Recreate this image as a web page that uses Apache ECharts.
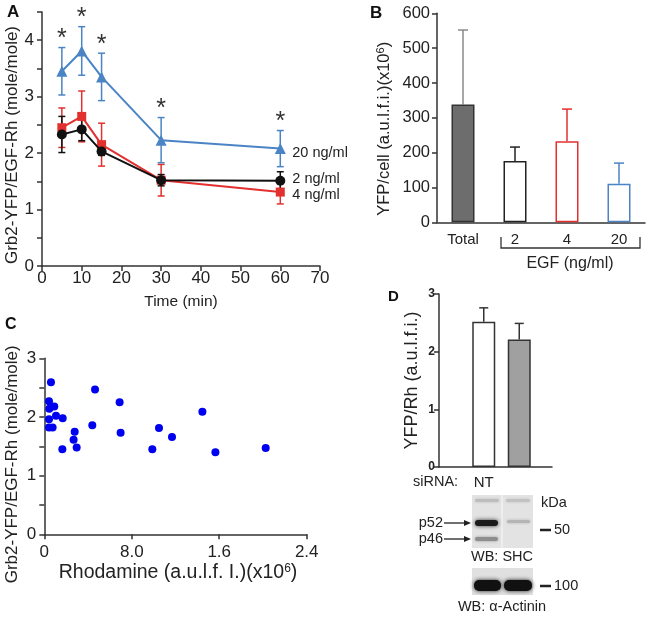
<!DOCTYPE html>
<html><head><meta charset="utf-8">
<script src="https://cdn.jsdelivr.net/npm/echarts@6/dist/echarts.min.js"></script>
<style>html,body{margin:0;padding:0;background:#fff}#c{width:653px;height:618px}</style>
</head><body><div id="c"></div>
<script>
// ---------- Panel A data ----------
const timeMin = [5, 10, 15, 30, 60];
const egf20Mean = [3.45, 3.81, 3.35, 2.23, 2.08];
const egf20Err  = [0.42, 0.43, 0.42, 0.40, 0.32];
const egf4Mean  = [2.45, 2.65, 2.15, 1.52, 1.31];
const egf4Err   = [0.35, 0.45, 0.38, 0.28, 0.21];
const egf2Mean  = [2.33, 2.42, 2.03, 1.52, 1.51];
const egf2Err   = [0.32, 0.20, 0.07, 0.10, 0.16];
const egf20Signif = [true, true, true, true, true];
const seriesNamesA = ['20 ng/ml', '4 ng/ml', '2 ng/ml'];

// ---------- Panel B data ----------
const bCategories = ['Total', '2', '4', '20'];
const bMean  = [338, 176, 233, 111];
const bErrUp = [214, 40, 92, 59];

// ---------- Panel C data ----------
const cRhodamine = [0.061,0.043,0.046,0.091,0.043,0.107,0.168,0.043,0.076,0.165,0.278,0.268,0.296,0.439,0.464,0.689,0.698,0.988,1.049,1.168,1.446,1.565,2.025];
const cRatio     = [2.59,2.27,2.14,2.18,1.96,2.02,1.98,1.82,1.82,1.45,1.75,1.61,1.48,1.86,2.47,2.25,1.73,1.45,1.81,1.66,2.09,1.40,1.47];
const cTickLabels = ['0', '8.0', '1.6', '2.4'];

// ---------- Panel D data ----------
const dCategories = ['NT', 'SHC'];
const dMean = [2.52, 2.21];
const dErrUp = [0.24, 0.28];

const FONT = 'Liberation Sans, Arial, Helvetica, sans-serif';
const BLUE = '#4a84c4', RED = '#e2302f', BLACK = '#111111';
const AX = '#333333', TXT = '#222222';

const chart = echarts.init(document.getElementById('c'), null, {renderer: 'canvas'});

function errBarsSym(color) {
  return function (params, api) {
    const x = api.value(0), m = api.value(1), e = api.value(2);
    const lo = api.coord([x, m - e]), hi = api.coord([x, m + e]);
    const w = 3.5;
    const st = {stroke: color, lineWidth: 1.5};
    return {type: 'group', children: [
      {type: 'line', shape: {x1: lo[0], y1: lo[1], x2: hi[0], y2: hi[1]}, style: st},
      {type: 'line', shape: {x1: hi[0]-w, y1: hi[1], x2: hi[0]+w, y2: hi[1]}, style: st},
      {type: 'line', shape: {x1: lo[0]-w, y1: lo[1], x2: lo[0]+w, y2: lo[1]}, style: st}
    ]};
  };
}
function errBarsUp(colors, lw, w) {
  return function (params, api) {
    const x = api.value(0), m = api.value(1), e = api.value(2);
    const lo = api.coord([x, m]), hi = api.coord([x, m + e]);
    const st = {stroke: colors[params.dataIndex], lineWidth: lw};
    return {type: 'group', children: [
      {type: 'line', shape: {x1: lo[0], y1: lo[1], x2: hi[0], y2: hi[1]}, style: st},
      {type: 'line', shape: {x1: hi[0]-w, y1: hi[1], x2: hi[0]+w, y2: hi[1]}, style: st}
    ]};
  };
}

const axisLineStyle = {show: true, lineStyle: {color: AX, width: 1.5}};
const tickStyle = {show: true, length: 5, lineStyle: {color: AX, width: 1.5}};

const bFill   = ['#6d6d6d', '#ffffff', '#ffffff', '#ffffff'];
const bBorder = ['#333333', '#222222', RED, BLUE];
const bErrCol = ['#8a8a8a', '#222222', RED, BLUE];
const dFill   = ['#ffffff', '#a0a0a0'];

const option = {
  animation: false,
  textStyle: {fontFamily: FONT, color: TXT},
  grid: [
    {left: 42, top: 12, width: 278, height: 254},           // A
    {left: 437, top: 13.3, width: 208, height: 209},        // B
    {left: 44.3, top: 358.3, width: 262.4, height: 176},    // C
    {left: 439, top: 294, width: 113, height: 173},         // D frame
    {left: 466, top: 294, width: 71, height: 173}           // D bars
  ],
  xAxis: [
    {gridIndex: 0, type: 'value', min: 0, max: 70, interval: 10,
     axisLine: axisLineStyle, axisTick: tickStyle, splitLine: {show: false},
     axisLabel: {fontSize: 17, color: TXT, margin: 4},
     name: 'Time (min)', nameLocation: 'middle', nameGap: 28,
     nameTextStyle: {fontSize: 15.5, color: TXT}},
    {gridIndex: 1, type: 'category', data: bCategories,
     axisLine: axisLineStyle, axisTick: {show: false},
     axisLabel: {fontSize: 15, color: TXT, margin: 10}},
    {gridIndex: 2, type: 'value', min: 0, max: 2.4, interval: 0.8,
     axisLine: axisLineStyle, axisTick: tickStyle, splitLine: {show: false},
     axisLabel: {fontSize: 17, color: TXT, margin: 10,
       formatter: v => cTickLabels[Math.round(v / 0.8)]},
     name: '{m|Rhodamine (a.u.l.f. I.)(x10}{s|6}{m|)}', nameLocation: 'middle', nameGap: 20,
     nameTextStyle: {padding: [0, 0, 0, 5], rich: {m: {fontSize: 19.5, color: TXT, fontFamily: FONT}, s: {fontSize: 12, color: TXT, fontFamily: FONT, verticalAlign: 'top', padding: [0,0,9,0]}}}},
    {gridIndex: 3, type: 'value', min: 0, max: 1, show: true,
     axisLine: axisLineStyle, axisTick: {show: false}, axisLabel: {show: false}, splitLine: {show: false}},
    {gridIndex: 4, type: 'category', data: dCategories,
     axisLine: {show: false}, axisTick: {show: false},
     axisLabel: {fontSize: 15, color: TXT, margin: 8}}
  ],
  yAxis: [
    {gridIndex: 0, type: 'value', min: 0, max: 4.5, interval: 0.5,
     axisLine: axisLineStyle, axisTick: tickStyle, splitLine: {show: false},
     axisLabel: {fontSize: 17, color: TXT, margin: 8, formatter: v => Number.isInteger(v) ? String(v) : ''},
     name: 'Grb2-YFP/EGF-Rh (mole/mole)', nameLocation: 'middle', nameGap: 20.5,
     nameTextStyle: {fontSize: 17, color: TXT, padding: [0, 12, 0, 0]}},
    {gridIndex: 1, type: 'value', min: 0, max: 600, interval: 100,
     axisLine: axisLineStyle, axisTick: tickStyle, splitLine: {show: false},
     axisLabel: {fontSize: 16.5, color: TXT, margin: 7},
     name: '{m|YFP/cell (a.u.l.f.i.)(x10}{s|6}{m|)}', nameLocation: 'middle', nameGap: 43,
     nameTextStyle: {padding: [0, 22, 0, 0], rich: {m: {fontSize: 16.5, color: TXT, fontFamily: FONT}, s: {fontSize: 11, color: TXT, fontFamily: FONT, verticalAlign: 'top', padding: [0,0,8,0]}}}},
    {gridIndex: 2, type: 'value', min: 0, max: 3, interval: 0.5,
     axisLine: axisLineStyle, axisTick: tickStyle, splitLine: {show: false},
     axisLabel: {fontSize: 17, color: TXT, margin: 8, formatter: v => Number.isInteger(v) ? String(v) : ''},
     name: 'Grb2-YFP/EGF-Rh (mole/mole)', nameLocation: 'middle', nameGap: 23,
     nameTextStyle: {fontSize: 17, color: TXT, padding: [0, 36, 0, 0]}},
    {gridIndex: 3, type: 'value', min: 0, max: 3, interval: 1,
     axisLine: axisLineStyle, axisTick: tickStyle, splitLine: {show: false},
     axisLabel: {fontSize: 12, fontWeight: 'bold', color: TXT, margin: 4},
     name: 'YFP/Rh (a.u.l.f.i.)', nameLocation: 'middle', nameGap: 18,
     nameTextStyle: {fontSize: 18, color: TXT}},
    {gridIndex: 4, type: 'value', min: 0, max: 3, show: false}
  ],
  series: [
    // Panel A error bars
    {type: 'custom', xAxisIndex: 0, yAxisIndex: 0, renderItem: errBarsSym(RED), z: 2,
     data: timeMin.map((t, i) => [t, egf4Mean[i], egf4Err[i]])},
    {type: 'custom', xAxisIndex: 0, yAxisIndex: 0, renderItem: errBarsSym(BLACK), z: 3,
     data: timeMin.map((t, i) => [t, egf2Mean[i], egf2Err[i]])},
    {type: 'custom', xAxisIndex: 0, yAxisIndex: 0, renderItem: errBarsSym(BLUE), z: 4,
     data: timeMin.map((t, i) => [t, egf20Mean[i], egf20Err[i]])},
    // Panel A lines
    {type: 'line', name: seriesNamesA[1], xAxisIndex: 0, yAxisIndex: 0, z: 5,
     data: timeMin.map((t, i) => [t, egf4Mean[i]]),
     symbol: 'rect', symbolSize: 9, showAllSymbol: true,
     lineStyle: {color: RED, width: 2}, itemStyle: {color: RED},
     endLabel: {show: true, formatter: seriesNamesA[1], distance: 12, offset: [0, 3], fontSize: 14.5, color: TXT, fontFamily: FONT}},
    {type: 'line', name: seriesNamesA[2], xAxisIndex: 0, yAxisIndex: 0, z: 6,
     data: timeMin.map((t, i) => [t, egf2Mean[i]]),
     symbol: 'circle', symbolSize: 10,
     lineStyle: {color: BLACK, width: 2}, itemStyle: {color: BLACK},
     endLabel: {show: true, formatter: seriesNamesA[2], distance: 12, offset: [0, -2], fontSize: 14.5, color: TXT, fontFamily: FONT}},
    {type: 'line', name: seriesNamesA[0], xAxisIndex: 0, yAxisIndex: 0, z: 7,
     data: timeMin.map((t, i) => [t, egf20Mean[i]]),
     symbol: 'triangle', symbolSize: 11,
     lineStyle: {color: BLUE, width: 2}, itemStyle: {color: BLUE},
     endLabel: {show: true, formatter: seriesNamesA[0], distance: 12, offset: [0, 4], fontSize: 14.5, color: TXT, fontFamily: FONT}},
    // Panel A asterisks
    {type: 'custom', xAxisIndex: 0, yAxisIndex: 0, z: 8,
     data: timeMin.map((t, i) => [t, egf20Mean[i] + egf20Err[i], egf20Signif[i] ? 1 : 0]),
     renderItem: function (params, api) {
       if (!api.value(2)) return null;
       const p = api.coord([api.value(0), api.value(1)]);
       return {type: 'text', x: p[0], y: p[1] + 4,
         style: {text: '*', fontSize: 25, fontFamily: FONT, fill: '#333', textAlign: 'center', textVerticalAlign: 'bottom'}};
     }},
    // Panel B bars
    {type: 'bar', xAxisIndex: 1, yAxisIndex: 1, barWidth: 23,
     data: bMean.map((v, i) => ({value: v, itemStyle: {color: bFill[i], borderColor: bBorder[i], borderWidth: 1.5}}))},
    {type: 'custom', xAxisIndex: 1, yAxisIndex: 1, renderItem: errBarsUp(bErrCol, 1.5, 5), z: 1,
     data: bMean.map((v, i) => [i, v, bErrUp[i]])},
    // Panel C scatter
    {type: 'scatter', xAxisIndex: 2, yAxisIndex: 2, symbolSize: 8,
     itemStyle: {color: '#0000f0', opacity: 1},
     data: cRhodamine.map((x, i) => [x, cRatio[i]])},
    // Panel D bars
    {type: 'bar', xAxisIndex: 4, yAxisIndex: 4, barWidth: 23,
     data: dMean.map((v, i) => ({value: v, itemStyle: {color: dFill[i], borderColor: '#333', borderWidth: 1.5}}))},
    {type: 'custom', xAxisIndex: 4, yAxisIndex: 4, renderItem: errBarsUp(['#333', '#333'], 1.5, 4.5), z: 1,
     data: dMean.map((v, i) => [i, v, dErrUp[i]])}
  ],
  graphic: [
    // panel letters
    {type: 'text', left: 7, top: 4, style: {text: 'A', font: 'bold 17px ' + FONT, fill: '#111'}},
    {type: 'text', left: 370, top: 5, style: {text: 'B', font: 'bold 17px ' + FONT, fill: '#111'}},
    {type: 'text', left: 5, top: 317, style: {text: 'C', font: 'bold 16px ' + FONT, fill: '#111'}},
    {type: 'text', left: 388, top: 289, style: {text: 'D', font: 'bold 15px ' + FONT, fill: '#111'}},
    // B bracket
    {type: 'polyline', shape: {points: [[501, 237], [501, 248], [640, 248], [640, 237]]},
     style: {stroke: '#333', lineWidth: 1.3, fill: null}},
    {type: 'text', x: 570, y: 264, style: {text: 'EGF (ng/ml)', font: '16px ' + FONT, fill: TXT, textAlign: 'center', textVerticalAlign: 'middle'}},
    // D labels
    {type: 'text', x: 413, y: 482, style: {text: 'siRNA:', font: '14.5px ' + FONT, fill: TXT, textAlign: 'left', textVerticalAlign: 'middle'}},
    // Western blot 1
    {type: 'rect', shape: {x: 472, y: 495, width: 61, height: 53}, style: {fill: '#e3e3e3'}},
    {type: 'rect', shape: {x: 501, y: 495, width: 2, height: 53}, style: {fill: '#eeeeee'}},
    {type: 'rect', shape: {x: 475, y: 499, width: 24, height: 3, r: 1.5}, style: {fill: '#bdbdbd', shadowBlur: 3, shadowColor: '#bdbdbd'}},
    {type: 'rect', shape: {x: 506, y: 499, width: 24, height: 3, r: 1.5}, style: {fill: '#c2c2c2', shadowBlur: 3, shadowColor: '#c2c2c2'}},
    {type: 'rect', shape: {x: 475, y: 520, width: 23, height: 6, r: 3}, style: {fill: '#1a1a1a', shadowBlur: 4, shadowColor: '#333'}},
    {type: 'rect', shape: {x: 507, y: 520, width: 23, height: 3, r: 1.5}, style: {fill: '#b5b5b5', shadowBlur: 3, shadowColor: '#b5b5b5'}},
    {type: 'rect', shape: {x: 475, y: 537, width: 23, height: 4, r: 2}, style: {fill: '#8e8e8e', shadowBlur: 3, shadowColor: '#999'}},
    // arrows
    {type: 'text', x: 443, y: 523, style: {text: 'p52', font: '14.5px ' + FONT, fill: TXT, textAlign: 'right', textVerticalAlign: 'middle'}},
    {type: 'text', x: 443, y: 539, style: {text: 'p46', font: '14.5px ' + FONT, fill: TXT, textAlign: 'right', textVerticalAlign: 'middle'}},
    {type: 'line', shape: {x1: 444, y1: 523, x2: 466, y2: 523}, style: {stroke: '#222', lineWidth: 1.3}},
    {type: 'polygon', shape: {points: [[471, 523], [464, 520], [464, 526]]}, style: {fill: '#222'}},
    {type: 'line', shape: {x1: 444, y1: 539, x2: 466, y2: 539}, style: {stroke: '#222', lineWidth: 1.3}},
    {type: 'polygon', shape: {points: [[471, 539], [464, 536], [464, 542]]}, style: {fill: '#222'}},
    {type: 'text', x: 541, y: 503, style: {text: 'kDa', font: '14.5px ' + FONT, fill: TXT, textAlign: 'left', textVerticalAlign: 'middle'}},
    {type: 'line', shape: {x1: 540, y1: 530, x2: 551, y2: 530}, style: {stroke: '#222', lineWidth: 2.5}},
    {type: 'text', x: 554, y: 530, style: {text: '50', font: '14.5px ' + FONT, fill: TXT, textAlign: 'left', textVerticalAlign: 'middle'}},
    {type: 'text', x: 502, y: 557, style: {text: 'WB: SHC', font: '14.5px ' + FONT, fill: TXT, textAlign: 'center', textVerticalAlign: 'middle'}},
    // Western blot 2
    {type: 'rect', shape: {x: 472, y: 568, width: 61, height: 27}, style: {fill: '#e0e0e0'}},
    {type: 'rect', shape: {x: 474, y: 580, width: 27, height: 11, r: 5}, style: {fill: '#111', shadowBlur: 4, shadowColor: '#222'}},
    {type: 'rect', shape: {x: 504, y: 580, width: 28, height: 11, r: 5}, style: {fill: '#111', shadowBlur: 4, shadowColor: '#222'}},
    {type: 'line', shape: {x1: 540, y1: 586, x2: 551, y2: 586}, style: {stroke: '#222', lineWidth: 2.5}},
    {type: 'text', x: 554, y: 586, style: {text: '100', font: '14.5px ' + FONT, fill: TXT, textAlign: 'left', textVerticalAlign: 'middle'}},
    {type: 'text', x: 502, y: 607, style: {text: 'WB: α-Actinin', font: '14.5px ' + FONT, fill: TXT, textAlign: 'center', textVerticalAlign: 'middle'}}
  ]
};
chart.setOption(option);
</script></body></html>
